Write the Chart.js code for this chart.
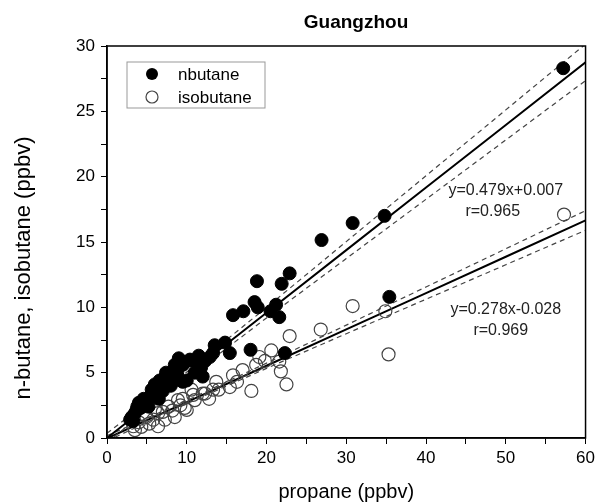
<!DOCTYPE html>
<html>
<head>
<meta charset="utf-8">
<script src="https://cdn.jsdelivr.net/npm/chart.js@4.4.1/dist/chart.umd.min.js"></script>
<style>
  html, body { margin: 0; padding: 0; background: #fff; }
  #wrap { width: 599px; height: 504px; }
</style>
</head>
<body>
<div id="wrap"><canvas id="chart" width="599" height="504"></canvas></div>
<script>
// propane (x) vs nbutane (y), filled circles
const nbutaneX = [57.2, 35.4, 34.8, 30.8, 26.9, 22.9, 22.3, 21.9, 18.8, 18.5, 18.9, 17.1, 15.8, 20.5, 21.2, 21.6,
    13.5, 14.8, 15.4, 13.3, 18.0, 10.4, 11.8, 9.5, 12.0, 9.5, 12.9, 10.0, 8.3, 9.1, 7.5, 6.2, 5.4, 4.5, 3.7, 3.1,
    2.9, 6.8, 7.0, 8.0, 5.0, 4.2, 5.8, 6.5, 3.5, 8.8, 7.8, 11.0, 4.0, 5.2, 3.3, 7.2, 9.8, 11.5,
    4.6, 5.6, 6.0, 6.6, 7.4, 8.5, 9.0, 10.8, 12.3, 3.8];
const nbutaneY = [28.3, 10.8, 17.0, 16.45, 15.15, 12.6, 6.5, 11.8, 12.0, 10.4, 10.0, 9.7, 9.4, 9.7, 10.2, 9.25,
    7.1, 7.3, 6.5, 6.5, 6.75, 6.0, 5.4, 5.6, 4.7, 4.3, 6.2, 4.4, 5.1, 4.45, 4.45, 3.45, 3.15, 2.65, 2.15, 1.6,
    1.4, 4.0, 3.6, 4.0, 2.9, 2.3, 3.3, 3.0, 1.9, 5.0, 4.8, 5.0, 2.7, 2.4, 1.3, 4.6, 5.8, 6.3,
    3.0, 3.7, 4.1, 4.4, 5.0, 5.6, 6.1, 5.9, 5.9, 2.4];

// propane (x) vs isobutane (y), open circles
const isobutaneX = [57.3, 35.3, 34.9, 30.8, 26.8, 22.9, 20.6, 19.1, 18.7, 21.6, 21.8, 22.5, 18.1, 17.0, 15.8, 15.4,
    13.7, 13.3, 12.0, 10.8, 10.0, 10.6, 9.75, 8.9, 7.7, 7.25, 6.4, 5.8, 4.95, 4.3, 3.5, 3.3, 6.4, 7.0, 8.2, 9.2,
    11.0, 12.3, 14.0, 16.3, 19.8, 12.8, 8.5, 5.3, 4.0, 6.0, 9.5];
const isobutaneY = [17.1, 6.4, 9.7, 10.1, 8.3, 7.8, 6.7, 6.2, 5.6, 5.85, 5.1, 4.1, 3.6, 5.2, 4.8, 3.9,
    4.3, 3.7, 3.4, 3.3, 2.15, 3.7, 2.3, 2.9, 2.4, 1.4, 1.9, 1.4, 1.6, 0.85, 0.6, 0.9, 0.9, 2.0, 2.1, 2.5,
    2.9, 3.4, 3.7, 4.3, 5.9, 3.0, 1.6, 1.1, 1.2, 2.2, 3.0];

// fitted lines and their dashed bands, read at these x positions
const fitX = [0, 10, 20, 30, 40, 50, 60];
const nbutaneFit = [0.007, 4.80, 9.59, 14.38, 19.17, 23.96, 28.75];
const nbutaneUpper = [0.36, 5.05, 9.99, 15.03, 20.07, 25.11, 30.15];
const nbutaneLower = [-0.34, 4.55, 9.19, 13.73, 18.27, 22.81, 27.35];
const isobutaneFit = [-0.028, 2.75, 5.53, 8.31, 11.09, 13.87, 16.65];
const isobutaneUpper = [0.17, 2.87, 5.73, 8.64, 11.56, 14.48, 17.40];
const isobutaneLower = [-0.23, 2.63, 5.33, 7.98, 10.62, 13.26, 15.90];

const fitLabels = [
    { x: 50.0, y: 18.95, lines: ['y=0.479x+0.007', 'r=0.965'], shift: -13 },
    { x: 50.0, y: 9.85, lines: ['y=0.278x-0.028', 'r=0.969'], shift: -5 }
];
const legendItems = ['nbutane', 'isobutane'];
const chartTitle = 'Guangzhou';
const yTitle = 'n-butane, isobutane (ppbv)';

const FONT = "'Liberation Sans', Arial, sans-serif";

function toPoints(xs, ys) {
    return xs.map((x, i) => ({ x: x, y: ys[i] }));
}

function lineSet(ys, dashed) {
    return {
        type: 'line',
        data: toPoints(fitX, ys),
        borderColor: dashed ? '#444' : '#000',
        borderWidth: dashed ? 1.2 : 2,
        borderDash: dashed ? [5, 4] : [],
        pointRadius: 0,
        fill: false,
        tension: 0
    };
}

const extras = {
    id: 'extras',
    afterDraw(chart) {
        const ctx = chart.ctx;
        const area = chart.chartArea;
        const sx = chart.scales.x, sy = chart.scales.y;
        ctx.save();
        // frame
        ctx.strokeStyle = '#000';
        ctx.lineWidth = 1.5;
        ctx.strokeRect(area.left, area.top, area.right - area.left, area.bottom - area.top);

        // title
        ctx.font = 'bold 19px ' + FONT;
        ctx.fillStyle = '#000';
        ctx.textAlign = 'center';
        ctx.textBaseline = 'alphabetic';
        ctx.fillText(chartTitle, 356, 28);

        // y axis title, sits a bit below the axis middle
        ctx.save();
        ctx.translate(24, 268);
        ctx.rotate(-Math.PI / 2);
        ctx.font = '22px ' + FONT;
        ctx.textBaseline = 'middle';
        ctx.fillText(yTitle, 0, 0);
        ctx.restore();

        // legend box
        const lx = area.left + 20, ly = area.top + 16;
        ctx.strokeStyle = '#999';
        ctx.lineWidth = 1;
        ctx.strokeRect(lx, ly, 138, 46);
        ctx.font = '17px ' + FONT;
        ctx.textBaseline = 'middle';
        ctx.textAlign = 'left';
        legendItems.forEach((name, i) => {
            const cy = ly + 12 + i * 23;
            ctx.beginPath();
            ctx.arc(lx + 25, cy, 6, 0, Math.PI * 2);
            if (i === 0) {
                ctx.fillStyle = '#000';
                ctx.fill();
            } else {
                ctx.strokeStyle = '#444';
                ctx.lineWidth = 1.2;
                ctx.stroke();
            }
            ctx.fillStyle = '#000';
            ctx.fillText(name, lx + 51, cy + 1);
        });

        // fit equations
        ctx.font = '16px ' + FONT;
        ctx.fillStyle = '#222';
        ctx.textAlign = 'center';
        fitLabels.forEach(lab => {
            const px = sx.getPixelForValue(lab.x);
            const py = sy.getPixelForValue(lab.y);
            lab.lines.forEach((t, i) => ctx.fillText(t, px + (i ? lab.shift : 0), py + i * 21));
        });
        ctx.restore();
    }
};

new Chart(document.getElementById('chart').getContext('2d'), {
    type: 'scatter',
    data: {
        datasets: [
            {
                label: 'nbutane',
                data: toPoints(nbutaneX, nbutaneY),
                backgroundColor: '#000',
                borderColor: '#000',
                pointRadius: 6.5,
                pointHoverRadius: 6.5
            },
            {
                label: 'isobutane',
                data: toPoints(isobutaneX, isobutaneY),
                backgroundColor: 'rgba(255,255,255,0)',
                borderColor: '#444',
                borderWidth: 1.2,
                pointRadius: 6.5,
                pointHoverRadius: 6.5
            },
            lineSet(nbutaneFit, false),
            lineSet(nbutaneUpper, true),
            lineSet(nbutaneLower, true),
            lineSet(isobutaneFit, false),
            lineSet(isobutaneUpper, true),
            lineSet(isobutaneLower, true)
        ]
    },
    options: {
        responsive: false,
        animation: false,
        layout: { padding: { left: 0, right: 12, top: 46, bottom: 0 } },
        plugins: {
            legend: { display: false },
            tooltip: { enabled: false },
            title: { display: false }
        },
        scales: {
            x: {
                type: 'linear',
                min: 0,
                max: 60,
                afterFit(scale) { scale.height = 66; },
                border: { display: true, color: '#000', width: 1.5 },
                grid: { drawOnChartArea: false, drawTicks: true, tickLength: 6, color: '#000' },
                ticks: {
                    stepSize: 5,
                    color: '#000',
                    padding: 4,
                    maxRotation: 0,
                    font: { family: FONT, size: 17 },
                    callback: v => (v % 10 === 0 ? v : '')
                },
                title: {
                    display: true,
                    text: 'propane (ppbv)',
                    color: '#000',
                    font: { family: FONT, size: 20 },
                    padding: { top: 0, bottom: 0 }
                }
            },
            y: {
                type: 'linear',
                min: 0,
                max: 30,
                afterFit(scale) { scale.width = 107; },
                border: { display: true, color: '#000', width: 1.5 },
                grid: { drawOnChartArea: false, drawTicks: true, tickLength: 6, color: '#000' },
                ticks: {
                    stepSize: 2.5,
                    color: '#000',
                    padding: 6,
                    font: { family: FONT, size: 17 },
                    callback: v => (v % 5 === 0 ? v : '')
                },
                title: { display: false }
            }
        }
    },
    plugins: [extras]
});
</script>
</body>
</html>
